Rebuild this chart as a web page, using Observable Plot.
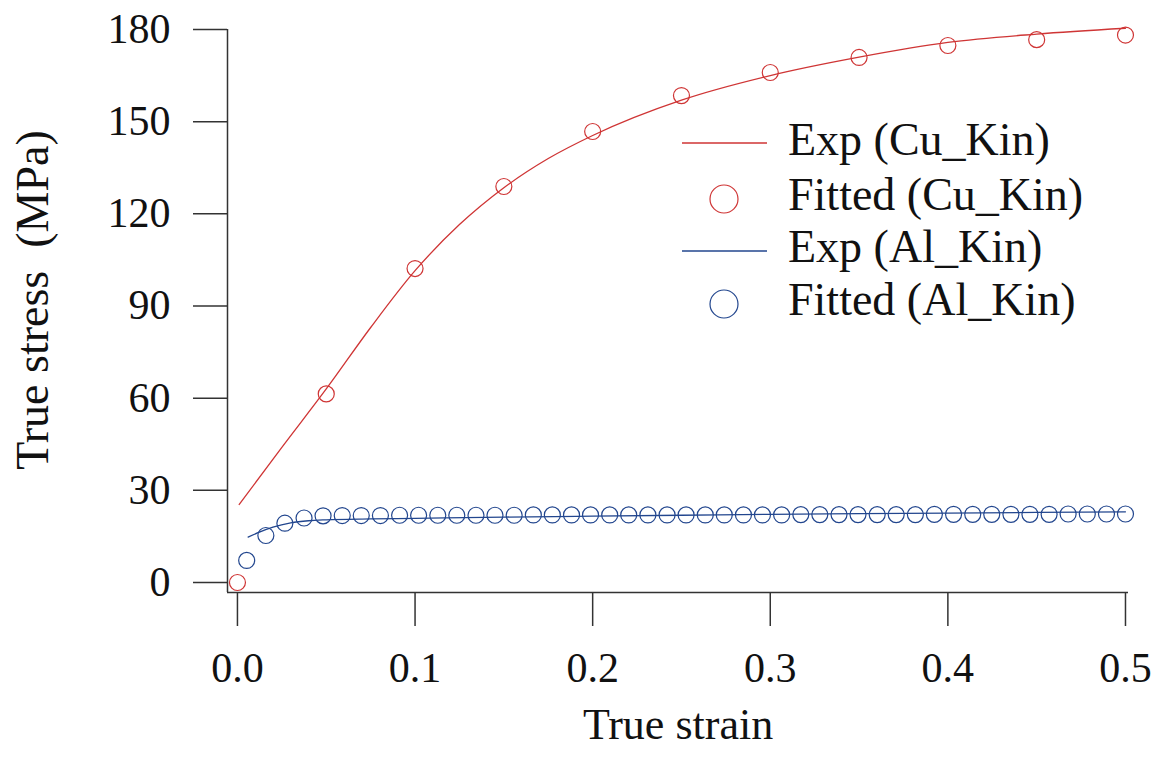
<!DOCTYPE html>
<html>
<head>
<meta charset="utf-8">
<script src="https://cdn.jsdelivr.net/npm/d3@7"></script>
<script src="https://cdn.jsdelivr.net/npm/@observablehq/plot@0.6"></script>
<style>
  html, body { margin: 0; padding: 0; background: #fff; }
  #chart { width: 1161px; height: 764px; }
</style>
</head>
<body>
<div id="chart"></div>
<script>
// ---- data ----
const cuExpStrain = [0.001, 0.025, 0.05, 0.075, 0.1, 0.125, 0.15, 0.175, 0.2, 0.25, 0.3, 0.35, 0.4, 0.45, 0.5];
const cuExpStress = [25.4, 44, 63, 83, 101.5, 116.5, 128.5, 138, 145.5, 157, 165, 171, 175.8, 178.5, 180.4];

const cuFitStrain = [0, 0.05, 0.1, 0.15, 0.2, 0.25, 0.3, 0.35, 0.4, 0.45, 0.5];
const cuFitStress = [0, 61.4, 102.2, 128.9, 146.8, 158.5, 166, 170.9, 174.8, 176.7, 178.2];

const alExpStrain = [0.006, 0.012, 0.02, 0.03, 0.04, 0.05, 0.075, 0.1, 0.15, 0.2, 0.25, 0.3, 0.35, 0.4, 0.45, 0.5];
const alExpStress = [14.8, 16.3, 18.0, 19.4, 20.1, 20.4, 20.7, 20.9, 21.3, 21.6, 21.9, 22.2, 22.4, 22.6, 22.8, 23.0];

const alFitStrain = [0.0052, 0.0160, 0.0267, 0.0375, 0.0482, 0.0590, 0.0697, 0.0805, 0.0913, 0.1020,
  0.1128, 0.1235, 0.1343, 0.1450, 0.1558, 0.1666, 0.1773, 0.1881, 0.1988, 0.2096,
  0.2203, 0.2311, 0.2419, 0.2526, 0.2634, 0.2741, 0.2849, 0.2956, 0.3064, 0.3172,
  0.3279, 0.3387, 0.3494, 0.3602, 0.3709, 0.3817, 0.3924, 0.4032, 0.4140, 0.4247,
  0.4355, 0.4462, 0.4570, 0.4677, 0.4785, 0.4893, 0.5000];
const alFitStress = [7.2, 15.3, 19.3, 21.0, 21.7, 21.8, 21.8, 21.8, 21.9, 21.9,
  21.9, 21.9, 21.9, 21.9, 21.9, 22.0, 22.0, 22.0, 22.0, 22.0,
  22.0, 22.0, 22.0, 22.0, 22.0, 22.0, 22.0, 22.0, 22.0, 22.1,
  22.1, 22.1, 22.1, 22.1, 22.1, 22.1, 22.2, 22.2, 22.2, 22.2,
  22.2, 22.2, 22.2, 22.3, 22.3, 22.3, 22.3];

const xTicks = [0, 0.1, 0.2, 0.3, 0.4, 0.5];
const yTicks = [0, 30, 60, 90, 120, 150, 180];
const xDomain = [-0.0056, 0.5017];
const yDomain = [-3.25, 180];

const seriesNames = ["Exp (Cu_Kin)", "Fitted (Cu_Kin)", "Exp (Al_Kin)", "Fitted (Al_Kin)"];
const xLabel = "True strain";
const yLabel = "True stress  (MPa)";

const RED = "#cf3535";
const BLUE = "#22468e";
const AXIS = "#333";

const zip = (xs, ys) => xs.map((x, i) => ({x, y: ys[i]}));
const cuExp = zip(cuExpStrain, cuExpStress);
const cuFit = zip(cuFitStrain, cuFitStress);
const alExp = zip(alExpStrain, alExpStress);
const alFit = zip(alFitStrain, alFitStress);

const FONT = "'Liberation Serif', 'Times New Roman', serif";

const plot = Plot.plot({
  width: 1161,
  height: 764,
  marginLeft: 227,
  marginRight: 33,
  marginTop: 29,
  marginBottom: 172,
  style: {fontFamily: FONT, fontSize: "42px", color: "#111", background: "#fff", overflow: "visible"},
  x: {domain: xDomain},
  y: {domain: yDomain},
  marks: [
    Plot.axisX({ticks: xTicks, tickFormat: d3.format(".1f"), tickSize: 34, tickPadding: 26, stroke: AXIS, strokeWidth: 1.5, label: null}),
    Plot.axisY({ticks: yTicks, tickSize: 34, tickPadding: 23, stroke: AXIS, strokeWidth: 1.5, label: null}),
    Plot.ruleX([xDomain[0]], {y1: yDomain[0], y2: yDomain[1], stroke: AXIS, strokeWidth: 1.5}),
    Plot.ruleY([yDomain[0]], {x1: xDomain[0], x2: xDomain[1], stroke: AXIS, strokeWidth: 1.5}),
    Plot.line(cuExp, {x: "x", y: "y", stroke: RED, strokeWidth: 1.3, curve: "monotone-x"}),
    Plot.line(alExp, {x: "x", y: "y", stroke: BLUE, strokeWidth: 1.3, curve: "monotone-x"}),
    Plot.dot(cuFit, {x: "x", y: "y", r: 8, stroke: RED, strokeWidth: 1.2, fill: "none"}),
    Plot.dot(alFit, {x: "x", y: "y", r: 8, stroke: BLUE, strokeWidth: 1.2, fill: "none"}),
    Plot.text([xLabel], {frameAnchor: "bottom", dy: 146, text: d => d, fontSize: 44, fill: "#111", textAnchor: "middle"}),
    Plot.text([yLabel], {frameAnchor: "left", dx: -194, dy: -11, rotate: -90, text: d => d, fontSize: 46, fill: "#111", textAnchor: "middle"})
  ]
});

document.getElementById("chart").appendChild(plot);

// ---- legend ----
const svg = d3.select(plot);
const lg = svg.append("g").attr("font-family", FONT).attr("font-size", 46).attr("fill", "#111").attr("text-anchor", "start");
const rows = [
  {name: seriesNames[0], kind: "line", color: RED, base: 155, mid: 143},
  {name: seriesNames[1], kind: "dot", color: RED, base: 210, mid: 199},
  {name: seriesNames[2], kind: "line", color: BLUE, base: 262, mid: 251},
  {name: seriesNames[3], kind: "dot", color: BLUE, base: 315, mid: 304}
];
rows.forEach(r => {
  if (r.kind === "line") {
    lg.append("line").attr("x1", 682).attr("x2", 767).attr("y1", r.mid).attr("y2", r.mid)
      .attr("stroke", r.color).attr("stroke-width", 1.4);
  } else {
    lg.append("circle").attr("cx", 724).attr("cy", r.mid).attr("r", 14)
      .attr("fill", "none").attr("stroke", r.color).attr("stroke-width", 1.2);
  }
  lg.append("text").attr("x", 788).attr("y", r.base).attr("text-anchor", "start").text(r.name);
});
</script>
</body>
</html>
